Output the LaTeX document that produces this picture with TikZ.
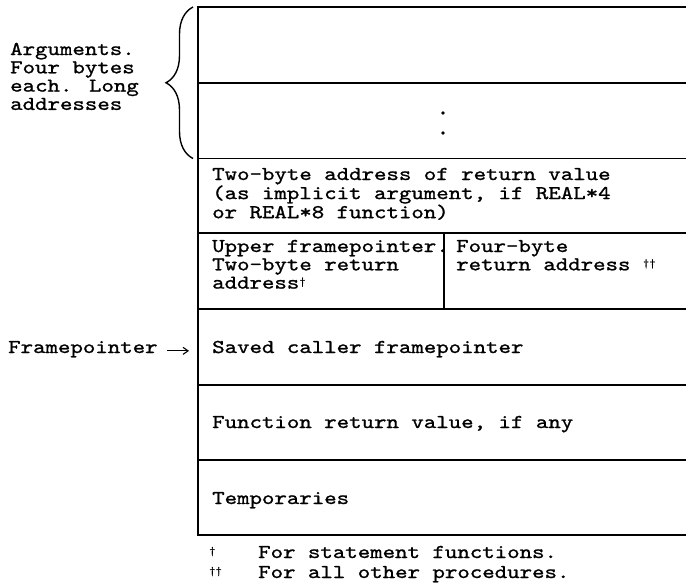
\documentclass[tikz,border=0pt]{standalone}
\usepackage{fontspec}
\setmainfont{lmmono10-regular.otf}[FakeBold=1.1, FakeStretch=1.21]
\usetikzlibrary{decorations.pathreplacing,arrows.meta}
% small raised dagger used as footnote mark
\newcommand{\dg}{\raisebox{4pt}{\fontsize{10}{10}\selectfont †}}
\newcommand{\lines}[1]{\begin{tabular}[t]{@{}l@{}}#1\end{tabular}}

\begin{document}
\begin{tikzpicture}[x=1pt,y=-1pt,
  cell/.style={draw, line width=1.2pt, anchor=north west, inner sep=0, outer sep=0},
  lbl/.style={anchor=base west, inner sep=0, font=\fontsize{19.6}{18.3}\selectfont},
  dotmark/.style={circle, fill, inner sep=0, minimum size=3.6pt},
  arr/.style={-{Straight Barb[length=5pt,width=7pt]}, line width=1.1pt}]
\useasboundingbox (0,0) rectangle (686,587);
\clip (0,0) rectangle (686,587);

% stack frame: the cells run on past the right margin
\node[cell, minimum width=520pt, minimum height=76pt]   (row1) at (198,7)     {};
\node[cell, minimum width=520pt, minimum height=75.5pt] (row2) at (198,83)    {};
\node[cell, minimum width=520pt, minimum height=74.5pt] (row3) at (198,158.5) {};
\node[cell, minimum width=246pt, minimum height=76pt]   (row4a) at (198,233)  {};
\node[cell, minimum width=274pt, minimum height=76pt]   (row4b) at (444,233)  {};
\node[cell, minimum width=520pt, minimum height=76pt]   (row5) at (198,309)   {};
\node[cell, minimum width=520pt, minimum height=75pt]   (row6) at (198,385)   {};
\node[cell, minimum width=520pt, minimum height=75pt]   (row7) at (198,460)   {};

% vertical ellipsis in the second argument slot
\node[dotmark] (dotA) at (443,113) {};
\node[dotmark] (dotB) at (443,133) {};

% cell contents
\node[lbl] (t3) at (212,180) {\lines{Two-byte address of return value\\(as implicit argument, if REAL*4\\or REAL*8 function)}};
\node[lbl] (t4a) at (212,252) {\lines{Upper framepointer.\\Two-byte return\\address\dg}};
\node[lbl] (t4b) at (456,252) {\lines{Four-byte\\return address \dg\dg}};
\node[lbl] (t5) at (212,353) {Saved caller framepointer};
\node[lbl] (t6) at (212,428) {Function return value, if any};
\node[lbl] (t7) at (212,504) {Temporaries};

% arguments brace and label
\draw[line width=1.4pt, decorate, decoration={brace, amplitude=27pt, aspect=0.5}]
  (193,158.5) -- (193,7);
\node[lbl] (args) at (10,55) {\lines{Arguments.\\Four bytes\\each. Long\\addresses}};

% frame pointer marker
\node[lbl] (fp) at (8,353) {Framepointer};
\draw[arr] ([xshift=9pt]fp.mid east) -- ([xshift=-9pt]fp.mid east -| row5.west);

% footnotes
\node[lbl] (m1) at (209,558) {\dg};
\node[lbl] (n1) at (258,558) {For statement functions.};
\node[lbl] (m2) at (209,578) {\dg\dg};
\node[lbl] (n2) at (258,578) {For all other procedures.};
\end{tikzpicture}
\end{document}
